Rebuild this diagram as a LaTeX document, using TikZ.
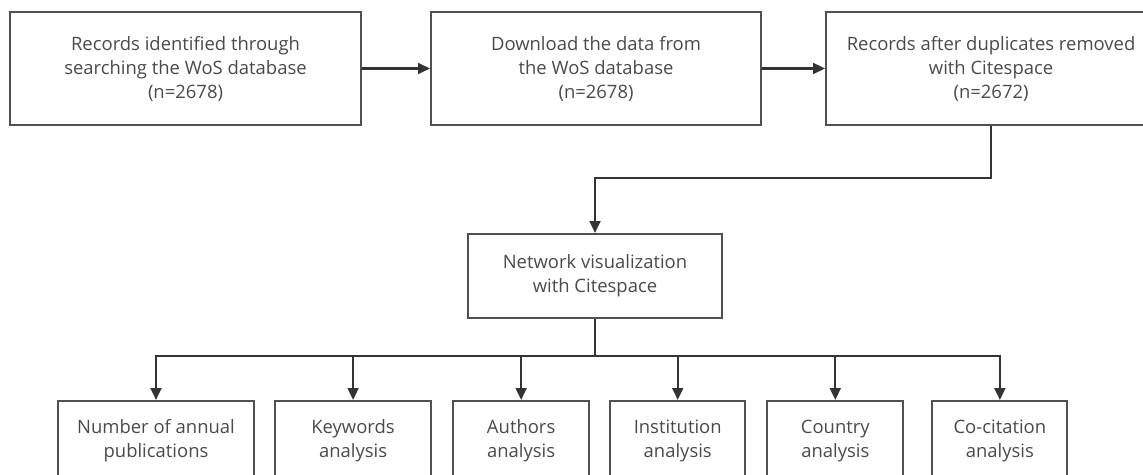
\documentclass[tikz,border=0pt]{standalone}
\usepackage{fontspec}
\setmainfont{Open Sans}
\usepackage{tikz}
\usetikzlibrary{shapes,arrows,arrows.meta}
\usetikzlibrary{positioning}
\definecolor{boxgray}{HTML}{505050}
\definecolor{txtgray}{HTML}{4A4A4A}
\definecolor{linegray}{HTML}{333333}
\tikzstyle{block} = [rectangle, draw=boxgray, line width=1.2pt, text=txtgray,
    align=center, inner sep=0pt, font=\fontsize{10.5}{13.7}\selectfont]
\tikzstyle{top} = [block, minimum height=2.26cm]
\tikzstyle{leaf} = [block, minimum height=1.6cm]
\tikzstyle{line} = [draw=linegray, line width=1.2pt, -{Triangle[length=6.8pt,width=6.2pt]}]

\begin{document}
\begin{tikzpicture}[x=0.02cm,y=-0.02cm]
    \useasboundingbox (0,0) rectangle (1143,475);
    \clip (0,0) rectangle (1143,475);
    % Place nodes
    \node [top, minimum width=7.02cm] (search) at (185.5,68.5) {Records identified through\\searching the WoS database\\(n=2678)};
    \node [top, minimum width=6.6cm, right=1.36cm of search] (download) {Download the data from\\the WoS database\\(n=2678)};
    \node [top, minimum width=6.6cm, right=1.26cm of download] (dedup) {Records after duplicates removed\\with Citespace\\(n=2672)};
    \node [block, minimum width=5.08cm, minimum height=1.68cm] (network) at (595,276) {Network visualization\\with Citespace};
    \node [leaf, minimum width=3.92cm] (annual) at (156,441) {Number of annual\\publications};
    \node [leaf, minimum width=3.12cm, right=0.38cm of annual] (keyword) {Keywords\\analysis};
    \node [leaf, minimum width=2.72cm, right=0.40cm of keyword] (author) {Authors\\analysis};
    \node [leaf, minimum width=2.70cm, right=0.38cm of author] (inst) {Institution\\analysis};
    \node [leaf, minimum width=2.72cm, right=0.40cm of inst] (country) {Country\\analysis};
    \node [leaf, minimum width=2.70cm, right=0.54cm of country] (cocite) {Co-citation\\analysis};
    % Draw edges
    \path [line] (search) -- (download);
    \path [line] (download) -- (dedup);
    \path [line] (dedup.south) -- ++(0,52) -| (network);
    \draw [linegray, line width=1.2pt] (network.south) -- ++(0,37) coordinate (split);
    \foreach \leaf in {annual,keyword,author,inst,country,cocite}
        \path [line] (split) -| (\leaf);
\end{tikzpicture}
\end{document}
